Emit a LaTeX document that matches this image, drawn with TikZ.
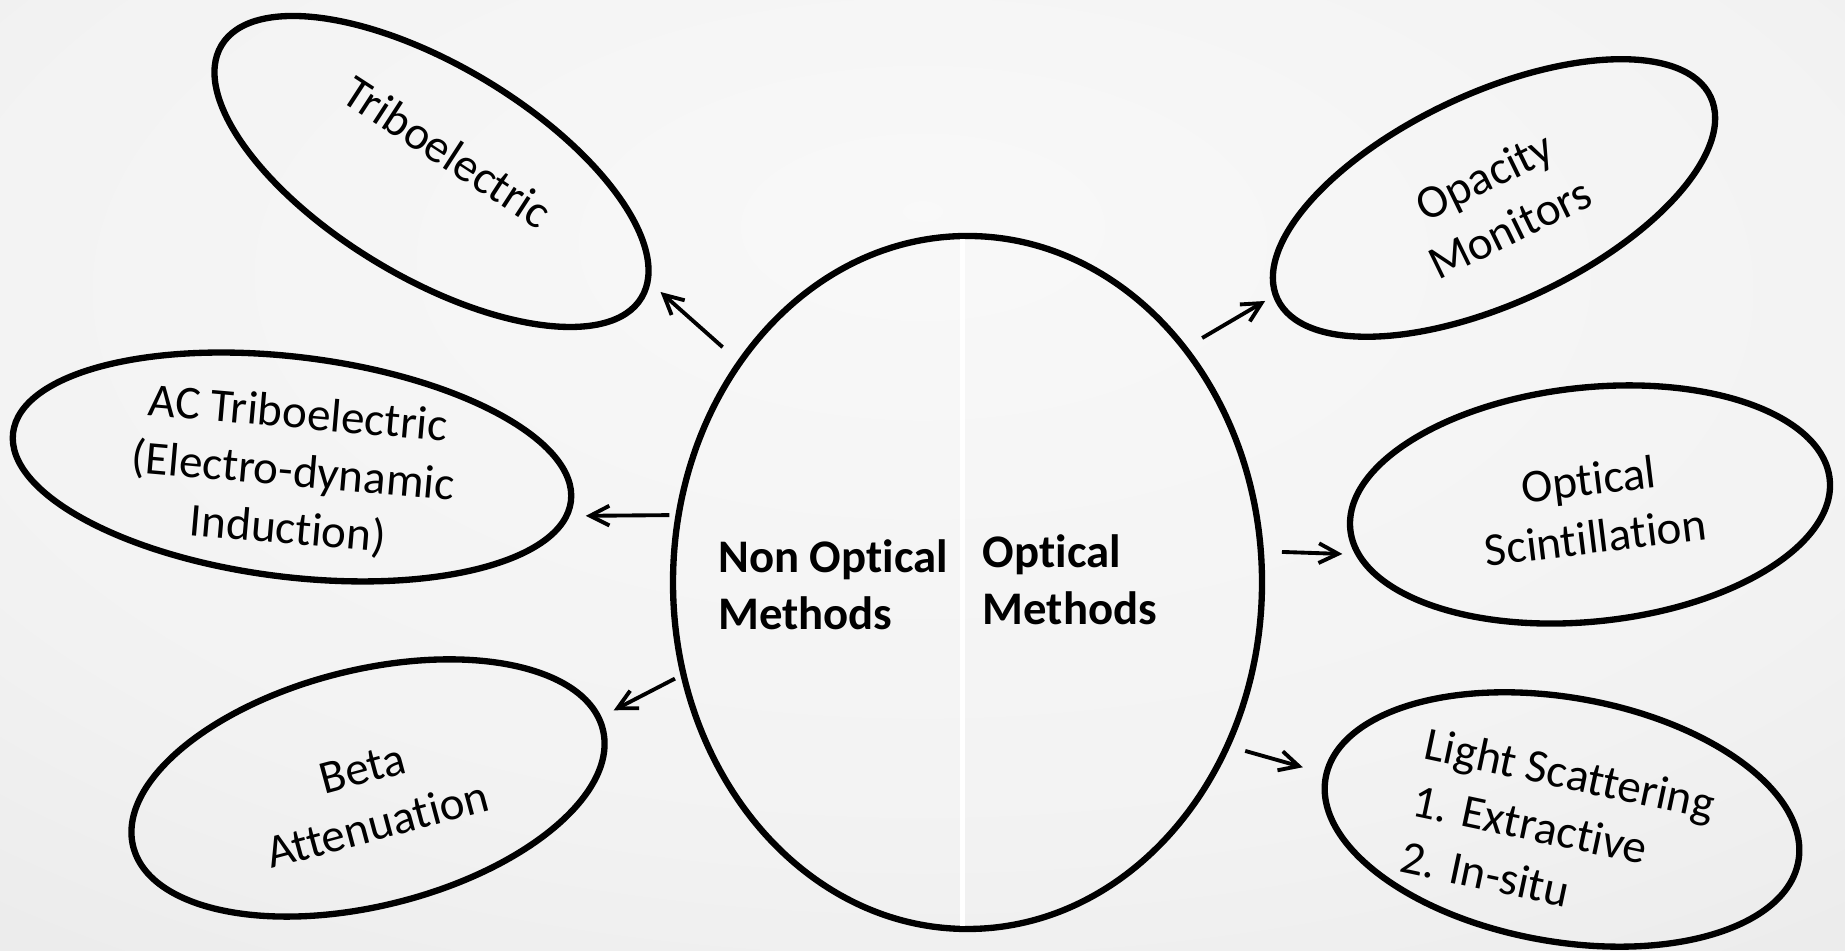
\documentclass[tikz,border=0pt]{standalone}
\usepackage{fontspec}
\setmainfont{Carlito}[Ligatures=NoCommon]
\usetikzlibrary{shapes.geometric,arrows.meta}
\pgfdeclareradialshading{paper}{\pgfpoint{0bp}{14bp}}{color(0bp)=(gray!5); color(28bp)=(gray!10); color(74bp)=(gray!30)}
\tikzset{
  bubble/.style = {ellipse, draw, line width=1.8pt, inner sep=0pt},
  bubbletext/.style = {font=\fontsize{13.4}{16.5}\selectfont, align=center, inner sep=0pt},
  methods/.style = {font=\fontsize{13.3}{16.1}\selectfont\bfseries, align=left, inner sep=0pt},
  link/.style = {->, line width=1.1pt}
}
\tikzset{>={Straight Barb[length=5.5pt,width=5.6pt]}}

\begin{document}
\begin{tikzpicture}
  \useasboundingbox (0,0) rectangle (18.45,9.51);
  \shade[shading=paper] (0,0) rectangle (18.45,9.51);

  % the split bubble in the middle
  \node[bubble, minimum width=5.89cm, minimum height=6.93cm] (centre) at (9.675,3.685) {};
  \draw[white, line width=1.5pt] ([xshift=-0.05cm,yshift=-1.8pt]centre.north) -- ([xshift=-0.05cm,yshift=1.8pt]centre.south);
  \node[methods] (nonopt) at (8.33,3.66) {Non Optical\\Methods};
  \node[methods] (opt) at (10.70,3.71) {Optical\\Methods};

  % non optical side
  \node[bubble, minimum width=4.90cm, minimum height=2.12cm, rotate=-31] (tribo) at (4.315,7.795) {};
  \node[bubbletext, rotate=-33] (tribotext) at (4.48,7.99) {Triboelectric};
  \node[bubble, minimum width=5.62cm, minimum height=2.20cm, rotate=-7] (acte) at (2.92,4.84) {};
  \node[bubbletext, rotate=-5] (actetext) at (2.93,4.78) {AC Triboelectric\\(Electro-dynamic\\Induction)};
  \node[bubble, minimum width=4.84cm, minimum height=2.36cm, rotate=14] (beta) at (3.68,1.63) {};
  \node[bubbletext, rotate=15] (betatext) at (3.70,1.54) {Beta\\Attenuation};

  % optical side
  \node[bubble, minimum width=4.78cm, minimum height=2.10cm, rotate=25] (opac) at (14.94,7.53) {};
  \node[bubbletext, rotate=26] (opactext) at (14.97,7.49) {Opacity\\Monitors};
  \node[bubble, minimum width=4.82cm, minimum height=2.34cm, rotate=6] (scint) at (15.90,4.465) {};
  \node[bubbletext, rotate=7] (scinttext) at (15.92,4.43) {Optical\\Scintillation};
  \node[bubble, minimum width=4.80cm, minimum height=2.44cm, rotate=-10] (light) at (15.62,1.315) {};
  \node[bubbletext, align=left, rotate=-12] (lighttext) at (15.58,1.21) {Light Scattering\\1. Extractive\\2. In-situ};

  \draw[link, shorten <=0.2cm, shorten >=0.135cm] (centre.136) -- (tribo.4);
  \draw[link, shorten <=0.06cm, shorten >=0.16cm] (centre.167) -- (acte.357);
  \draw[link, shorten <=0.064cm, shorten >=0.138cm] (centre.198) -- (beta.3);
  \draw[link, shorten <=0.172cm, shorten >=0.09cm] (centre.47) -- (opac.179);
  \draw[link, shorten <=0.18cm, shorten >=0.128cm] (centre.6) -- (scint.186);
  \draw[link, shorten <=0.155cm, shorten >=0.214cm] (centre.328) -- (light.179);
\end{tikzpicture}
\end{document}
